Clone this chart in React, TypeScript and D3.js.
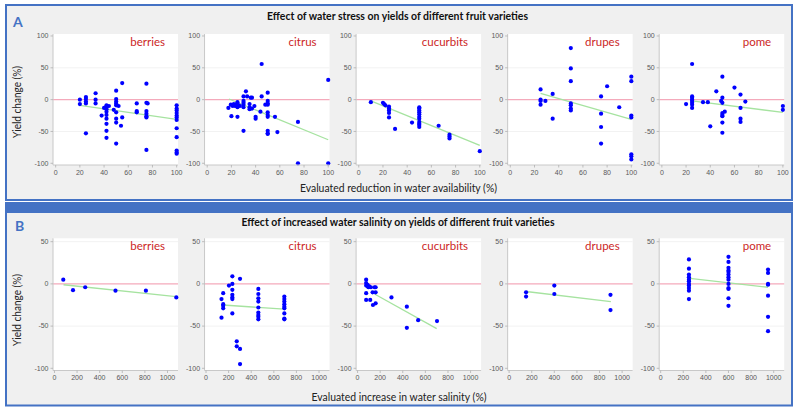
import React from 'react';
import * as d3 from 'd3';

type Pt = [number, number];

const categories = ['berries', 'citrus', 'cucurbits', 'drupes', 'pome'];

const stressTicksX = [0, 20, 40, 60, 80, 100];
const stressTicksY = [100, 50, 0, -50, -100];
const salinityTicksX = [0, 200, 400, 600, 800, 1000];
const salinityTicksY = [50, 0, -50, -100];

const stressBerries: Pt[] = [
  [20, 0], [20, -7], [25, 4], [25, 1], [25, -3], [25, -6], [25, -53],
  [33, 10], [33, 0], [33, -6], [38, -25], [40, -13],
  [42, -9], [42, -12], [42, -15], [42, -19], [42, -24], [42, -30], [42, -38], [42, -49], [42, -60],
  [44, -10], [48, -16],
  [50, 14], [50, 1], [50, -3], [50, -6], [50, -9], [50, -20], [50, -30], [50, -36], [50, -69],
  [52, -10], [54, -41], [55, 26], [55, -28],
  [67, -6], [67, -18], [67, -20],
  [75, 25], [75, -5], [75, -18], [75, -22], [75, -26], [75, -28], [75, -79], [76, -6],
  [100, -9], [100, -14], [100, -17], [100, -21], [100, -25], [100, -28], [100, -32], [100, -45],
  [100, -59], [100, -80], [100, -83], [100, -85],
];
const stressCitrus: Pt[] = [
  [17.5, -13], [19.5, -8], [20, -26], [21, -10], [22, -7], [23, -10], [24, -8],
  [25, -4], [25, -8], [25, -12], [25, -27], [26, -9], [27, -10],
  [30, -49], [30, 5], [30, -2], [30, -5], [30, -8], [30, -12],
  [32, 13], [33, 5], [35, -7], [35, -12], [35, -15], [36, 3], [37, 3], [37, -14], [39, -10],
  [40, -27], [40, -30], [44, -19], [45, 5], [45, 56], [48, -8],
  [50, 11], [50, -2], [50, -6], [50, -8], [50, -20], [50, -24], [50, -27], [50, -49], [50, -53], [50, -54],
  [56, -27], [58, -51], [75, -35], [75, -100], [100, 31], [100, -100],
];
const stressCucurbits: Pt[] = [
  [10, -4], [20, -5], [21, -7], [22, -9], [25, -11], [25, -14], [25, -17], [25, -21], [25, -28],
  [30, -46], [44, -36],
  [50, -12], [50, -14], [50, -17], [50, -20], [50, -23], [50, -27], [50, -30], [50, -35], [50, -38],
  [50, -40], [50, -43],
  [66, -41], [75, -55], [75, -58], [75, -61], [100, -81],
];
const stressDrupes: Pt[] = [
  [25, 16], [25, 0], [25, -2], [25, -8], [29, -2], [35, 9], [35, -30],
  [50, 81], [50, 49], [50, 29], [50, -6], [50, -9], [50, -14], [50, -17],
  [75, 5], [75, -22], [75, -43], [75, -69], [80, 21], [90, -12],
  [100, 36], [100, 29], [100, -25], [100, -28], [100, -86], [100, -89], [100, -94],
];
const stressPome: Pt[] = [
  [20, -7], [25, 56], [25, 5], [25, 3], [25, 0], [25, -2], [25, -5], [25, -8], [25, -13],
  [34, -4], [38, -4], [40, -42], [45, 13], [49, -2],
  [50, 36], [50, 3], [50, -5], [50, -21], [50, -24], [50, -26], [50, -36], [50, -52], [52, -19],
  [60, 19], [65, 8], [65, -13], [65, -30], [65, -35], [69, -3], [100, -10], [100, -16],
];
const stressFits: Pt[][] = [
  [[20, -9], [100, -31]],
  [[18, 1], [100, -63]],
  [[10, -2], [100, -72]],
  [[25, 10], [100, -31]],
  [[25, -2], [100, -20]],
];

const salinityBerries: Pt[] = [
  [78, 5], [164, -7.5], [272, -4], [540, -8], [809, -8], [1078, -16],
];
const salinityCitrus: Pt[] = [
  [137, -40], [137, -18], [152, -11], [152, -24], [152, -26], [152, -29], [203, -2],
  [233, 9], [233, 0], [233, -7], [233, -13], [233, -16], [233, -18], [233, -35],
  [272, -68], [272, -74], [301, 6], [301, -77], [301, -95],
  [463, -6], [463, -12], [463, -17], [463, -21], [463, -28], [463, -34], [463, -37], [463, -39], [463, -42],
  [693, -15], [693, -18], [693, -21], [693, -24], [693, -27], [693, -29], [693, -35], [693, -41], [693, -42],
];
const salinityCucurbits: Pt[] = [
  [76, 5], [76, 1], [76, -2], [76, -11], [76, -19], [88, -1], [92, -3], [96, -4], [103, -3],
  [112, -19], [118, -4], [133, -10], [136, -25], [150, -4], [160, -10], [160, -4], [160, -23],
  [300, -16], [436, -27], [436, -52], [536, -43], [703, -44],
];
const salinityDrupes: Pt[] = [
  [150, -10], [150, -15], [400, -2], [400, -12], [897, -13], [897, -31],
];
const salinityPome: Pt[] = [
  [250, 29], [250, 18], [250, 11], [250, 8], [250, 5], [250, 3], [250, 0], [250, -2], [250, -5],
  [250, -8], [250, -18],
  [600, 32], [600, 26], [600, 19], [600, 16], [600, 14], [600, 11], [600, 8], [600, 5], [600, 0],
  [600, -5], [600, -6], [600, -17], [600, -26],
  [950, 17], [950, 13], [950, 0], [950, -1], [950, -14], [950, -39], [950, -56],
];
const salinityFits: Pt[][] = [
  [[80, -1], [1075, -15]],
  [[150, -25], [693, -30]],
  [[150, -12], [700, -53]],
  [[150, -9], [900, -21]],
  [[258, 6.5], [950, -4]],
];

const stressSeries = [stressBerries, stressCitrus, stressCucurbits, stressDrupes, stressPome];
const salinitySeries = [salinityBerries, salinityCitrus, salinityCucurbits, salinityDrupes, salinityPome];

const TICK_FONT = 'Liberation Sans, Arial, sans-serif';
const LABEL_FONT = 'Lato, Open Sans, sans-serif';
const BLUE = '#4472c4';

type SubProps = {
  left: number;
  top: number;
  width: number;
  height: number;
  xDomain: [number, number];
  yDomain: [number, number];
  xTicks: number[];
  yTicks: number[];
  points: Pt[];
  fit: Pt[];
  label: string;
};

function Subplot({ left, top, width, height, xDomain, yDomain, xTicks, yTicks, points, fit, label }: SubProps) {
  const x = d3.scaleLinear().domain(xDomain).range([left, left + width]);
  const y = d3.scaleLinear().domain(yDomain).range([top + height, top]);
  const bottom = top + height;
  const line = d3.line<Pt>().x((d) => x(d[0])).y((d) => y(d[1]));
  return (
    <g>
      <rect x={left} y={top} width={width} height={height} fill="#ffffff" />
      {yTicks
        .filter((t) => t !== 0 && t !== -100 && t !== 100)
        .map((t) => (
          <line key={'g' + t} x1={left} x2={left + width} y1={y(t)} y2={y(t)} stroke="#f2f2f2" strokeWidth={1} />
        ))}
      <line x1={left} x2={left + width} y1={y(0)} y2={y(0)} stroke="#f4aabb" strokeWidth={1.3} />
      <path d={line(fit) || ''} stroke="#a6e3a0" strokeWidth={1.3} fill="none" />
      {points.map((p, i) => (
        <circle key={i} cx={x(p[0])} cy={y(p[1])} r={2.1} fill="#0000ff" />
      ))}
      <line x1={left} x2={left} y1={top} y2={bottom} stroke="#c8c8c8" strokeWidth={1} />
      <line x1={left} x2={left + width} y1={bottom} y2={bottom} stroke="#c8c8c8" strokeWidth={1} />
      {yTicks.map((t) => (
        <g key={'y' + t}>
          <line x1={left - 2.5} x2={left} y1={y(t)} y2={y(t)} stroke="#b0b0b0" strokeWidth={0.8} />
          <text x={left - 4.5} y={y(t) + 2.4} textAnchor="end" fontSize={7} fill="#595959" fontFamily={TICK_FONT}>
            {t}
          </text>
        </g>
      ))}
      {xTicks.map((t) => (
        <g key={'x' + t}>
          <line x1={x(t)} x2={x(t)} y1={bottom} y2={bottom + 2.5} stroke="#b0b0b0" strokeWidth={0.8} />
          <text x={x(t)} y={bottom + 9.6} textAnchor="middle" fontSize={7} fill="#595959" fontFamily={TICK_FONT}>
            {t}
          </text>
        </g>
      ))}
      <text x={left + width - 13} y={top + 12} textAnchor="end" fontSize={11.5} fill="#cc1f1f" fontFamily={LABEL_FONT}>
        {label}
      </text>
    </g>
  );
}

const COL_LEFT = [53, 204.55, 356.1, 507.65, 659.2];
const PLOT_W = 125;

export default function App() {
  return (
    <svg
      width={800}
      height={413}
      viewBox="0 0 800 413"
      style={{ position: 'absolute', left: 0, top: 0, background: '#ffffff' }}
    >
      <rect x={0} y={0} width={800} height={413} fill="#ffffff" />
      <rect x={6} y={5} width={786} height={195} fill="#f0f0f0" stroke={BLUE} strokeWidth={2} />
      <rect x={5} y={202} width={788} height={9} fill={BLUE} />
      <rect x={6} y={212} width={786} height={193.5} fill="#f0f0f0" stroke={BLUE} strokeWidth={2} />

      <text x={13} y={27} fontSize={14} fontWeight="bold" fill={BLUE} fontFamily={LABEL_FONT}>A</text>
      <text x={397.5} y={19.5} textAnchor="middle" fontSize={10.5} fontWeight="bold" fill="#111" fontFamily={LABEL_FONT}
        textLength={261} lengthAdjust="spacingAndGlyphs">
        Effect of water stress on yields of different fruit varieties
      </text>
      <text transform="translate(20.5,102) rotate(-90)" textAnchor="middle" fontSize={11} fill="#222" fontFamily={LABEL_FONT}
        textLength={72} lengthAdjust="spacingAndGlyphs">
        Yield change (%)
      </text>
      <text x={398.5} y={192} textAnchor="middle" fontSize={11} fill="#222" fontFamily={LABEL_FONT}
        textLength={197} lengthAdjust="spacingAndGlyphs">
        Evaluated reduction in water availability (%)
      </text>

      {categories.map((c, i) => (
        <Subplot
          key={'a' + c}
          left={COL_LEFT[i]}
          top={34}
          width={PLOT_W}
          height={131}
          xDomain={[-2.2, 101.1]}
          yDomain={[-102.7, 103.1]}
          xTicks={stressTicksX}
          yTicks={stressTicksY}
          points={stressSeries[i]}
          fit={stressFits[i]}
          label={c}
        />
      ))}

      <text x={15} y={231} fontSize={14} fontWeight="bold" fill={BLUE} fontFamily={LABEL_FONT}>B</text>
      <text x={398} y={225.5} textAnchor="middle" fontSize={10.5} fontWeight="bold" fill="#111" fontFamily={LABEL_FONT}
        textLength={313} lengthAdjust="spacingAndGlyphs">
        Effect of increased water salinity on yields of different fruit varieties
      </text>
      <text transform="translate(20.5,310) rotate(-90)" textAnchor="middle" fontSize={11} fill="#222" fontFamily={LABEL_FONT}
        textLength={72} lengthAdjust="spacingAndGlyphs">
        Yield change (%)
      </text>
      <text x={399} y={401} textAnchor="middle" fontSize={11} fill="#222" fontFamily={LABEL_FONT}
        textLength={175} lengthAdjust="spacingAndGlyphs">
        Evaluated increase in water salinity (%)
      </text>

      {categories.map((c, i) => (
        <Subplot
          key={'b' + c}
          left={COL_LEFT[i]}
          top={238.3}
          width={PLOT_W}
          height={132.2}
          xDomain={[-13, 1093]}
          yDomain={[-102.6, 54]}
          xTicks={salinityTicksX}
          yTicks={salinityTicksY}
          points={salinitySeries[i]}
          fit={salinityFits[i]}
          label={c}
        />
      ))}
    </svg>
  );
}
